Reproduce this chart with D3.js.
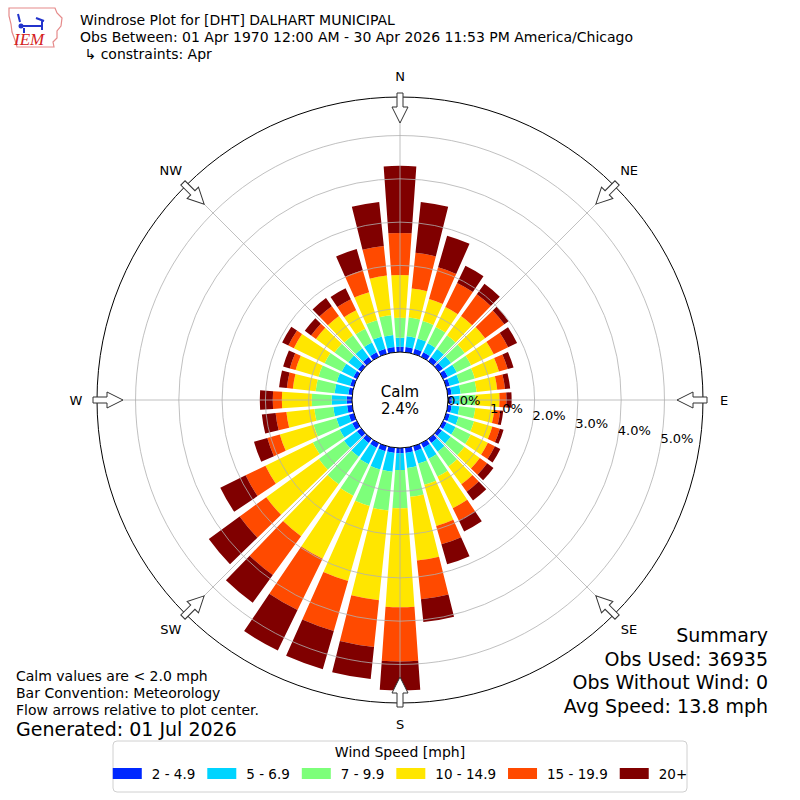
<!DOCTYPE html>
<html>
<head>
<meta charset="utf-8">
<script src="https://cdn.jsdelivr.net/npm/d3@7"></script>
<style>
  body { margin: 0; background: #fff; }
  svg text { font-family: "DejaVu Sans", sans-serif; fill: #000; }
</style>
</head>
<body>
<svg id="chart" width="800" height="800"></svg>
<script>
// wind direction (deg, where the wind comes from)
const directions = [0, 10, 20, 30, 40, 50, 60, 70, 80, 90, 100, 110, 120, 130, 140, 150, 160, 170,
  180, 190, 200, 210, 220, 230, 240, 250, 260, 270, 280, 290, 300, 310, 320, 330, 340, 350];

const speedBins = ["2 - 4.9", "5 - 6.9", "7 - 9.9", "10 - 14.9", "15 - 19.9", "20+"];
const binColors = ["#0028ff", "#00d4ff", "#7dff7a", "#ffe600", "#ff4a00", "#800000"];

// percent of obs per direction, one array per speed bin
const pct2to5 = [0.12, 0.12, 0.12, 0.12, 0.12, 0.12, 0.12, 0.09, 0.09, 0.09, 0.09, 0.09, 0.09, 0.09, 0.12, 0.12, 0.12, 0.12,
  0.12, 0.12, 0.12, 0.12, 0.12, 0.12, 0.12, 0.12, 0.12, 0.12, 0.09, 0.09, 0.09, 0.09, 0.12, 0.12, 0.12, 0.12];
const pct5to7 = [0.21, 0.25, 0.25, 0.23, 0.23, 0.23, 0.23, 0.23, 0.21, 0.18, 0.18, 0.21, 0.23, 0.25, 0.25, 0.28, 0.30, 0.35,
  0.39, 0.44, 0.44, 0.42, 0.39, 0.37, 0.32, 0.30, 0.32, 0.35, 0.32, 0.32, 0.30, 0.28, 0.25, 0.25, 0.30, 0.28];
const pct7to10 = [0.46, 0.44, 0.42, 0.42, 0.39, 0.39, 0.37, 0.37, 0.37, 0.37, 0.37, 0.37, 0.39, 0.39, 0.42, 0.46, 0.51, 0.67,
  0.88, 0.90, 0.88, 0.81, 0.79, 0.72, 0.69, 0.55, 0.44, 0.46, 0.44, 0.44, 0.44, 0.39, 0.37, 0.35, 0.39, 0.46];
const pct10to15 = [0.99, 0.67, 0.53, 0.51, 0.55, 0.58, 0.58, 0.58, 0.48, 0.55, 0.44, 0.44, 0.44, 0.44, 0.51, 0.81, 0.99, 1.48,
  2.29, 2.08, 1.80, 1.62, 1.48, 1.50, 1.22, 0.81, 0.65, 0.69, 0.53, 0.55, 0.79, 0.53, 0.55, 0.48, 0.67, 0.92];
const pct15to20 = [0.97, 0.83, 0.76, 0.62, 0.62, 0.55, 0.37, 0.21, 0.18, 0.16, 0.14, 0.18, 0.18, 0.21, 0.21, 0.32, 0.44, 0.90,
  1.25, 1.09, 1.20, 1.32, 1.11, 0.76, 0.51, 0.30, 0.25, 0.21, 0.14, 0.14, 0.14, 0.14, 0.28, 0.28, 0.53, 0.69];
const pct20up = [1.55, 1.18, 0.76, 0.44, 0.30, 0.12, 0.23, 0.14, 0.12, 0.12, 0.07, 0.09, 0.14, 0.18, 0.25, 0.28, 0.48, 0.53,
  0.67, 0.74, 0.92, 1.04, 0.79, 0.88, 0.65, 0.32, 0.32, 0.30, 0.18, 0.16, 0.16, 0.18, 0.23, 0.28, 0.51, 1.02];

const calmPct = 2.4;
const radialMax = 5.89;
const ringTicks = [0, 1, 2, 3, 4, 5];
const compassLabels = ["N", "NE", "E", "SE", "S", "SW", "W", "NW"];
const compassAngles = [0, 45, 90, 135, 180, 225, 270, 315];

const titleLines = [
  "Windrose Plot for [DHT] DALHART MUNICIPAL",
  "Obs Between: 01 Apr 1970 12:00 AM - 30 Apr 2026 11:53 PM America/Chicago",
  " \u21b3 constraints: Apr"
];
const noteLines = ["Calm values are < 2.0 mph", "Bar Convention: Meteorology", "Flow arrows relative to plot center."];
const generatedText = "Generated: 01 Jul 2026";
const summaryLines = ["Summary", "Obs Used: 36935", "Obs Without Wind: 0", "Avg Speed: 13.8 mph"];

const svg = d3.select("#chart");
const cx = 400, cy = 400;
const calmR = 48, outerR = 303;

const rScale = d3.scaleLinear().domain([0, radialMax]).range([calmR, outerR]);
const aScale = d3.scaleLinear().domain([0, 360]).range([0, 2 * Math.PI]);
const halfWidth = 4; // degrees, 80% of the 10 deg sector

const keys = ["b0", "b1", "b2", "b3", "b4", "b5"];
const series = [pct2to5, pct5to7, pct7to10, pct10to15, pct15to20, pct20up];
const table = directions.map((dir, i) => {
  const row = { dir };
  keys.forEach((k, j) => row[k] = series[j][i]);
  return row;
});
const stacked = d3.stack().keys(keys)(table);

const rose = svg.append("g").attr("transform", `translate(${cx},${cy})`);

const arc = d3.arc()
  .innerRadius(d => rScale(d[0]))
  .outerRadius(d => rScale(d[1]))
  .startAngle(d => aScale(d.data.dir - halfWidth))
  .endAngle(d => aScale(d.data.dir + halfWidth));

rose.selectAll("g.bin").data(stacked).enter().append("g")
  .attr("class", "bin")
  .attr("fill", (d, i) => binColors[i])
  .selectAll("path").data(d => d).enter().append("path")
  .attr("d", arc);

// grid
rose.selectAll("circle.grid").data(ringTicks.slice(1)).enter().append("circle")
  .attr("class", "grid")
  .attr("r", d => rScale(d))
  .attr("fill", "none")
  .attr("stroke", "#b0b0b0")
  .attr("stroke-width", 0.8);

rose.selectAll("line.spoke").data(compassAngles).enter().append("line")
  .attr("x1", d => rScale(0) * Math.sin(aScale(d)))
  .attr("y1", d => -rScale(0) * Math.cos(aScale(d)))
  .attr("x2", d => rScale(radialMax) * Math.sin(aScale(d)))
  .attr("y2", d => -rScale(radialMax) * Math.cos(aScale(d)))
  .attr("stroke", "#b0b0b0")
  .attr("stroke-width", 0.8);

rose.append("circle")
  .attr("r", rScale(radialMax))
  .attr("fill", "none")
  .attr("stroke", "#000")
  .attr("stroke-width", 1);

// calm circle
rose.append("circle")
  .attr("r", rScale(0))
  .attr("fill", "#fff")
  .attr("stroke", "#000")
  .attr("stroke-width", 1);
rose.append("text").attr("y", -8).attr("text-anchor", "middle").attr("dominant-baseline", "central")
  .style("font-size", "15px").text("Calm");
rose.append("text").attr("y", 9).attr("text-anchor", "middle").attr("dominant-baseline", "central")
  .style("font-size", "15px").text(calmPct.toFixed(1) + "%");

// ring labels
const labelAngle = 10 * Math.PI / 180;
rose.selectAll("text.ring").data(ringTicks).enter().append("text")
  .attr("class", "ring")
  .attr("x", d => rScale(d) * Math.cos(labelAngle))
  .attr("y", d => rScale(d) * Math.sin(labelAngle) - 3)
  .style("font-size", "13px")
  .text(d => d.toFixed(1) + "%");

// flow arrows at compass points
const arrowPath = d3.line()([[0, -277], [8, -293], [3, -293], [3, -307], [-3, -307], [-3, -293], [-8, -293]]) + "Z";
rose.selectAll("path.arrow").data(compassAngles).enter().append("path")
  .attr("class", "arrow")
  .attr("d", arrowPath)
  .attr("transform", d => `rotate(${d})`)
  .attr("fill", "#fff")
  .attr("stroke", "#333")
  .attr("stroke-width", 1);

rose.selectAll("text.compass").data(compassAngles).enter().append("text")
  .attr("x", d => 324 * Math.sin(aScale(d)))
  .attr("y", d => -324 * Math.cos(aScale(d)))
  .attr("text-anchor", "middle")
  .attr("dominant-baseline", "central")
  .style("font-size", "13px")
  .text((d, i) => compassLabels[i]);

// title
svg.selectAll("text.title").data(titleLines).enter().append("text")
  .attr("x", 80).attr("y", (d, i) => 25 + i * 17)
  .style("font-size", "14px")
  .style("white-space", "pre")
  .text(d => d);

// logo
const logo = svg.append("g");
logo.append("path")
  .attr("d", "M9,8 L55,8 L57,13 L62,18 L61,26 L57,31 L57,38 L53,42 L54,47 L17,47 L15,40 L12,32 L11,24 L9,16 Z")
  .attr("fill", "#fff").attr("stroke", "#e58a8a").attr("stroke-width", 1.2);
logo.append("path")
  .attr("d", "M20,26 L42,26 M42,20 L42,30 M36,18 L44,21 M18,14 L20,22 M24,28 L24,33")
  .attr("fill", "none").attr("stroke", "#2233cc").attr("stroke-width", 2);
logo.append("circle").attr("cx", 21).attr("cy", 26).attr("r", 2.5).attr("fill", "#2233cc");
logo.append("text").attr("x", 14).attr("y", 45)
  .style("font-family", "'Liberation Serif', serif").style("font-style", "italic")
  .style("font-size", "17px").style("fill", "#d42020").text("IEM");

// notes (bottom left)
svg.selectAll("text.note").data(noteLines).enter().append("text")
  .attr("x", 16).attr("y", (d, i) => 681 + i * 17)
  .style("font-size", "14px")
  .text(d => d);
svg.append("text").attr("x", 16).attr("y", 736)
  .style("font-size", "19px").text(generatedText);

// summary (bottom right)
svg.selectAll("text.summary").data(summaryLines).enter().append("text")
  .attr("x", 768).attr("y", (d, i) => 642 + i * 23.5)
  .attr("text-anchor", "end")
  .style("font-size", "19px")
  .text(d => d);

// legend
const legend = svg.append("g");
legend.append("rect")
  .attr("x", 113).attr("y", 741).attr("width", 574).attr("height", 51).attr("rx", 4)
  .attr("fill", "#fff").attr("stroke", "#d0d0d0");
legend.append("text").attr("x", 400).attr("y", 757).attr("text-anchor", "middle")
  .style("font-size", "14px").text("Wind Speed [mph]");

const items = legend.selectAll("g.item").data(speedBins).enter().append("g");
items.append("rect").attr("width", 29).attr("height", 11).attr("y", 768)
  .attr("fill", (d, i) => binColors[i]);
items.append("text").attr("x", 39).attr("y", 779)
  .style("font-size", "13.5px").text(d => d);
let xPos = 0;
const offsets = [];
items.each(function () {
  const w = 39 + this.querySelector("text").getComputedTextLength();
  offsets.push(xPos);
  xPos += w + 12;
});
const startX = 400 - (xPos - 12) / 2;
items.attr("transform", (d, i) => `translate(${startX + offsets[i]},0)`);
</script>
</body>
</html>
